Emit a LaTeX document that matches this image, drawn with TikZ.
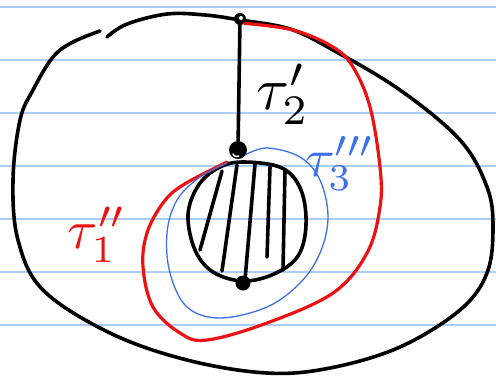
\documentclass[tikz,border=0pt]{standalone}
\usetikzlibrary{calc}
\definecolor{inkred}{RGB}{236,18,18}
\definecolor{inkblue}{RGB}{62,112,232}
\definecolor{ruleblue}{RGB}{172,206,246}
\tikzset{
    ink/.style={line width=3.6pt, line cap=round, line join=round},
    redink/.style={ink, draw=inkred, line width=3.2pt},
    blueink/.style={draw=inkblue, line width=1.3pt, line cap=round},
    ruleline/.style={draw=ruleblue, line width=1.6pt},
    vertex/.style={circle, fill, inner sep=0pt}
}

\begin{document}
\begin{tikzpicture}[x=1pt, y=-1pt,
    tlabel/.style={inner sep=0pt}
]
\useasboundingbox (0,0) rectangle (496,376);
\fill[white] (0,0) rectangle (496,376);
% ruled paper
\foreach \y in {7,60,113,166,219,272,325}
    \draw[ruleline] (0,\y) -- (496,\y);

% outer boundary
\draw[ink] plot[smooth, tension=0.6] coordinates {(107,37) (127,24) (167,14)
    (205,15) (240,20) (290,29) (333,50) (400,90) (460,140) (487,187) (493,227)
    (487,273) (460,310) (400,347) (330,368) (267,373) (187,360) (110,333)
    (43,290) (18,240) (13,180) (20,120) (33,90) (53,57) (73,42) (100,31)};

% hatched hole
\draw[ink] plot[smooth cycle, tension=0.6] coordinates {(243,162) (282,168)
    (301,190) (306,225) (298,256) (274,274) (243,281) (213,272) (195,250)
    (188,215) (198,186) (218,168)};
\foreach \xa/\ya/\xb/\yb in {222/171/200/250, 237/165/222/271, 255/164/245/280,
    270/167/267/257, 285/171/283/270}
    \draw[ink] (\xa,\ya) -- (\xb,\yb);

% vertices
\node[vertex, minimum size=12pt] (top) at (240,19) {};
\fill[white] (241,18) circle (2pt);
\node[vertex, minimum size=18pt] (mid) at (238,150) {};
\draw[white, line width=1.6pt, line cap=round] (233,154) arc[start angle=200, end angle=300, radius=4pt];
\node[vertex, minimum size=15pt] (bot) at (243,283) {};
\draw[ink] (top) -- (mid);

% curves
\draw[redink] plot[smooth, tension=0.6] coordinates {(top.south east)
    (293,30) (333,47) (353,67) (370,107) (380,167) (380,207) (367,253)
    (333,293) (267,323) (207,340) (180,333) (153,307) (143,267) (147,233)
    (163,203) (183,185) (227,162)};
\draw[blueink] plot[smooth, tension=0.6] coordinates {(245,155) (267,148)
    (300,157) (320,180) (328,217) (320,253) (300,283) (267,307) (220,318)
    (187,307) (170,273) (167,233) (177,200) (200,177) (227,163)};

% labels
\node[tlabel] (t2) at (283,94) {\scalebox{6}{$\tau_2'$}};
\node[tlabel, text=inkred] (t1) at (97,235) {\scalebox{5.5}{$\tau_1''$}};
\node[tlabel, text=inkblue] (t3) at (340,163) {\scalebox{5.4}{$\tau_3'''$}};
\end{tikzpicture}
\end{document}
